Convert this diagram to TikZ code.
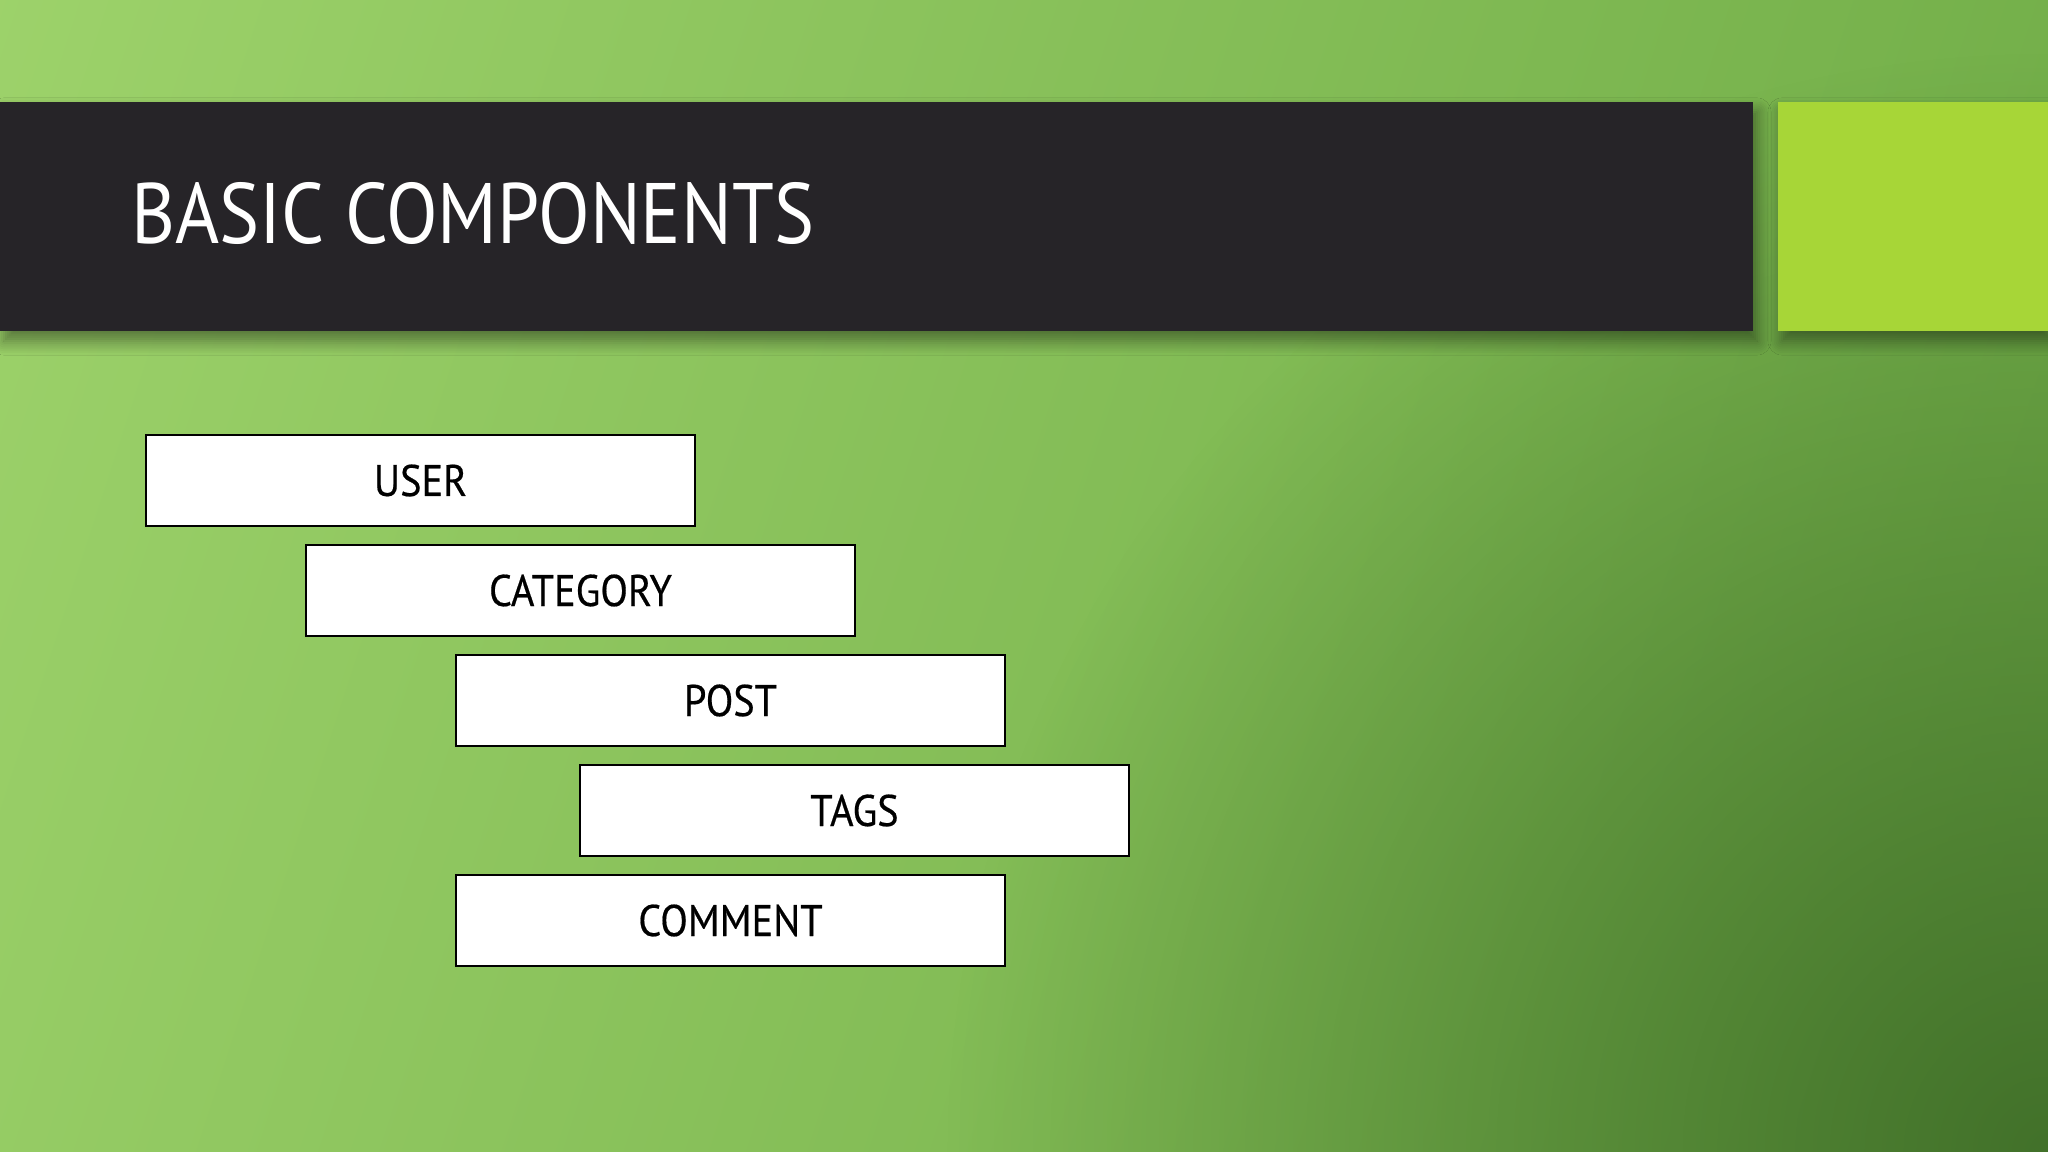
\documentclass[tikz,border=0pt]{standalone}
\usepackage{fontspec}
\setmainfont{PT Sans}[FakeStretch=0.88]
\usepackage{xcolor}
\usepackage{tikz}
\usetikzlibrary{positioning,shadows.blur,fadings}

\definecolor{bglight}{HTML}{A4D870}
\definecolor{bgdark}{HTML}{66A43F}
\definecolor{cornercol}{HTML}{42712A}
\definecolor{barcol}{HTML}{262428}
\definecolor{limecol}{HTML}{A7D637}
\tikzfading[name=cornerfade,inner color=transparent!0,outer color=transparent!100]

\begin{document}
\begin{tikzpicture}[node distance=0.19cm,
  compbox/.style={rectangle,draw=black,line width=0.8pt,fill=white,outer sep=0pt,
    minimum width=5.49cm,minimum height=0.91cm,inner sep=0pt,
    font=\fontsize{12.6}{14}\selectfont\addfontfeature{FakeStretch=0.91,FakeBold=0.4}},
  barshadow/.style={blur shadow={shadow xshift=0.04cm,shadow yshift=-0.1cm,
    shadow opacity=45,shadow blur steps=8,shadow blur radius=0.8ex}}]
  \useasboundingbox (0,0) rectangle (20.48,-11.52);
  % background
  \begin{scope}
    \clip (0,0) rectangle (20.48,-11.52);
    \shade[left color=bglight,right color=bgdark,shading angle=72]
      (-6,6) rectangle (26.48,-17.52);
    \fill[cornercol,path fading=cornerfade] (20.48,-11.52) circle (11cm);
  \end{scope}
  % title band
  \fill[barcol,barshadow] (0,-1.02) rectangle (17.53,-3.31);
  \fill[limecol,barshadow] (17.78,-1.02) rectangle (20.48,-3.31);
  \node[anchor=base west,inner sep=0pt,text=white,
    font=\fontsize{24.4}{28}\selectfont] (title) at (1.31,-2.44) {BASIC COMPONENTS};
  % components
  \node[compbox,anchor=north west] (user) at (1.46,-4.35) {USER};
  \node[compbox,below=of user.south west,anchor=north west,xshift=1.60cm] (category) {CATEGORY};
  \node[compbox,below=of category.south west,anchor=north west,xshift=1.50cm] (post) {POST};
  \node[compbox,below=of post.south west,anchor=north west,xshift=1.24cm] (tags) {TAGS};
  \node[compbox,below=of tags.south west,anchor=north west,xshift=-1.24cm] (comment) {COMMENT};
\end{tikzpicture}
\end{document}
